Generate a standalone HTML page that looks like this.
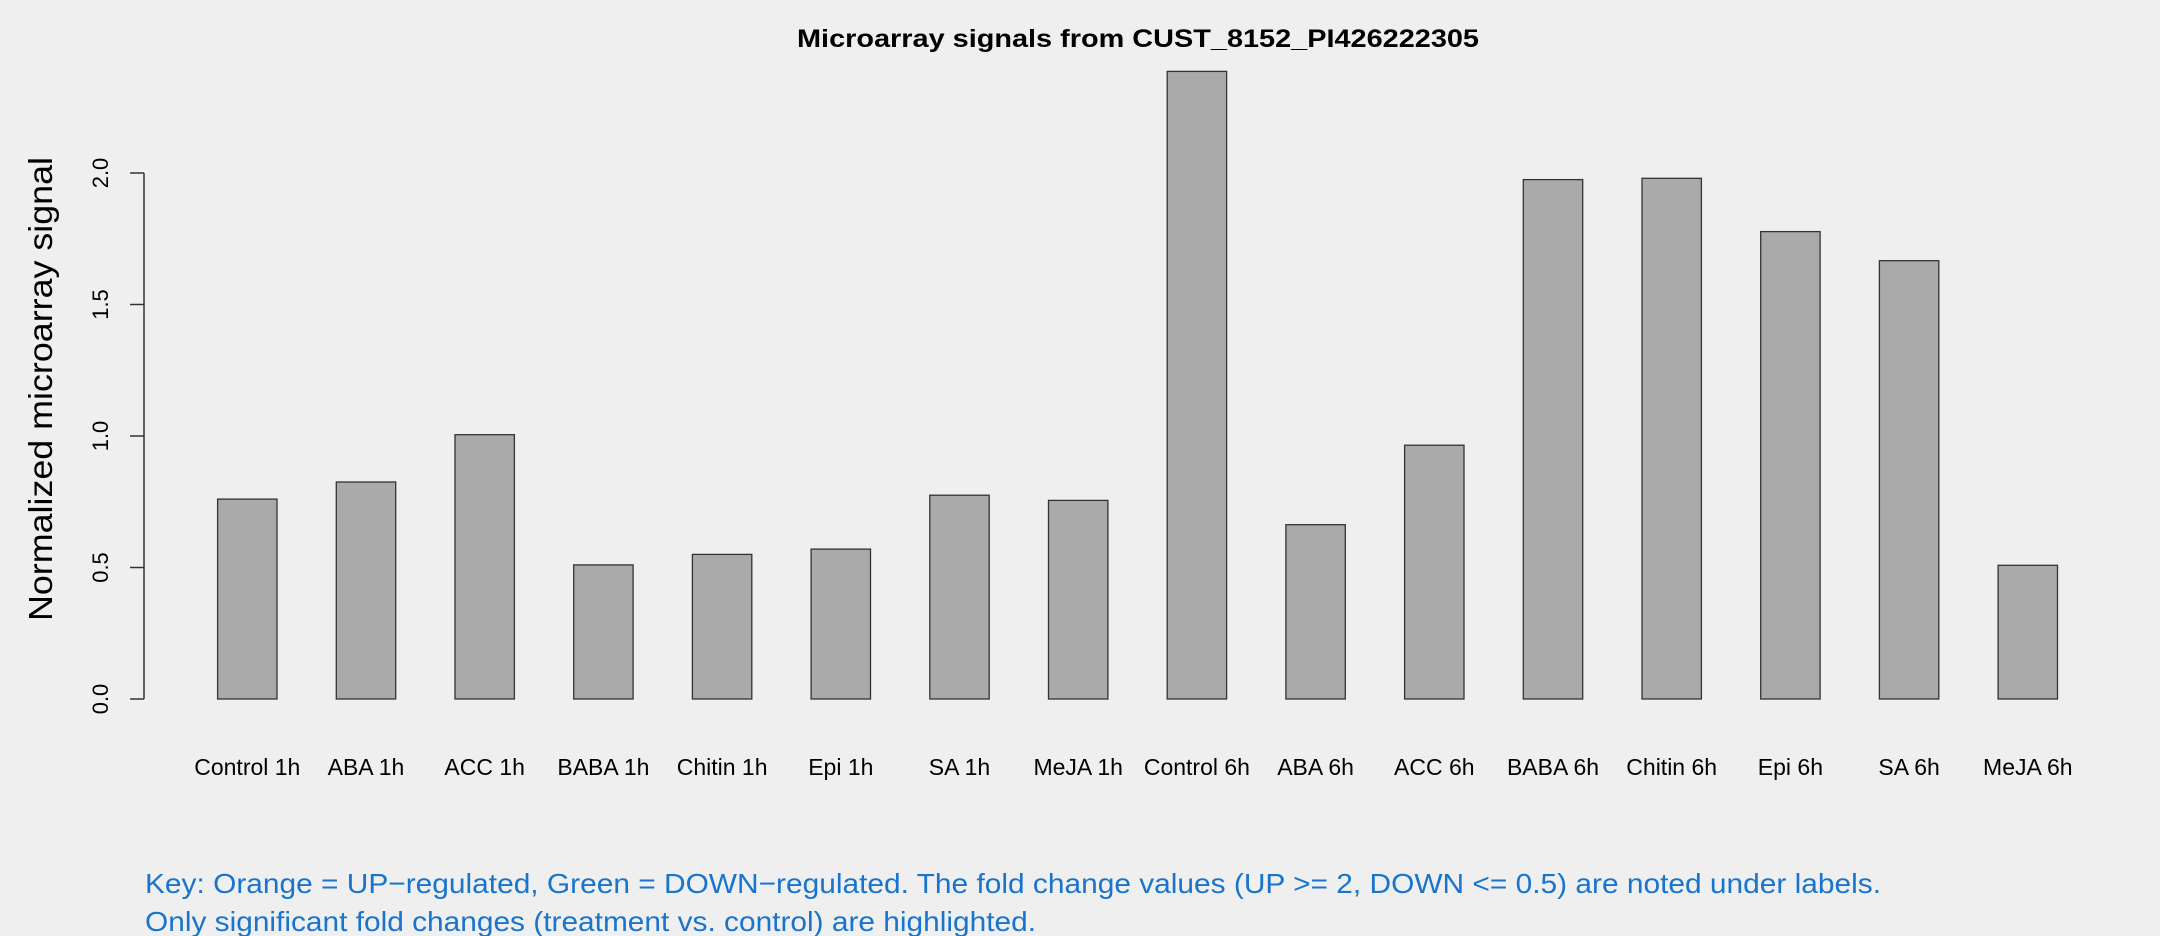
<!DOCTYPE html>
<html><head><meta charset="utf-8"><style>
html,body{margin:0;padding:0;background:#efefef;}
svg{display:block;font-family:"Liberation Sans",Arial,sans-serif;}
</style></head><body>
<svg width="2160" height="936" viewBox="0 0 2160 936" xmlns="http://www.w3.org/2000/svg">
<rect width="2160" height="936" fill="#efefef"/>
<text x="1138" y="47" font-size="25" font-weight="bold" text-anchor="middle" textLength="682" lengthAdjust="spacingAndGlyphs">Microarray signals from CUST_8152_PI426222305</text>
<g stroke="#333" stroke-width="1.5" fill="none">
<line x1="144" y1="173" x2="144" y2="699"/>
<line x1="130" y1="699" x2="144" y2="699"/>
<line x1="130" y1="567.5" x2="144" y2="567.5"/>
<line x1="130" y1="436" x2="144" y2="436"/>
<line x1="130" y1="304.5" x2="144" y2="304.5"/>
<line x1="130" y1="173" x2="144" y2="173"/>
</g>
<g font-size="22" text-anchor="middle">
<text transform="translate(108,699) rotate(-90)">0.0</text>
<text transform="translate(108,567.5) rotate(-90)">0.5</text>
<text transform="translate(108,436) rotate(-90)">1.0</text>
<text transform="translate(108,304.5) rotate(-90)">1.5</text>
<text transform="translate(108,173) rotate(-90)">2.0</text>
</g>
<text transform="translate(52,389) rotate(-90)" font-size="33" text-anchor="middle" textLength="464" lengthAdjust="spacingAndGlyphs">Normalized microarray signal</text>
<g fill="#aaaaaa" stroke="#333" stroke-width="1.3">
<rect x="217.6" y="499.1" width="59.4" height="199.9"/>
<rect x="336.3" y="482.0" width="59.4" height="217.0"/>
<rect x="455.0" y="434.7" width="59.4" height="264.3"/>
<rect x="573.7" y="564.9" width="59.4" height="134.1"/>
<rect x="692.4" y="554.4" width="59.4" height="144.6"/>
<rect x="811.1" y="549.1" width="59.4" height="149.9"/>
<rect x="929.8" y="495.2" width="59.4" height="203.8"/>
<rect x="1048.5" y="500.4" width="59.4" height="198.6"/>
<rect x="1167.2" y="71.4" width="59.4" height="627.6"/>
<rect x="1285.9" y="524.7" width="59.4" height="174.3"/>
<rect x="1404.6" y="445.2" width="59.4" height="253.8"/>
<rect x="1523.3" y="179.6" width="59.4" height="519.4"/>
<rect x="1642.0" y="178.3" width="59.4" height="520.7"/>
<rect x="1760.7" y="231.6" width="59.4" height="467.4"/>
<rect x="1879.4" y="260.7" width="59.4" height="438.3"/>
<rect x="1998.1" y="565.3" width="59.4" height="133.7"/>
</g>
<g font-size="23" text-anchor="middle">
<text x="247.3" y="775">Control 1h</text>
<text x="366" y="775">ABA 1h</text>
<text x="484.7" y="775">ACC 1h</text>
<text x="603.4" y="775">BABA 1h</text>
<text x="722.1" y="775">Chitin 1h</text>
<text x="840.8" y="775">Epi 1h</text>
<text x="959.5" y="775">SA 1h</text>
<text x="1078.2" y="775">MeJA 1h</text>
<text x="1196.9" y="775">Control 6h</text>
<text x="1315.6" y="775">ABA 6h</text>
<text x="1434.3" y="775">ACC 6h</text>
<text x="1553" y="775">BABA 6h</text>
<text x="1671.7" y="775">Chitin 6h</text>
<text x="1790.4" y="775">Epi 6h</text>
<text x="1909.1" y="775">SA 6h</text>
<text x="2027.8" y="775">MeJA 6h</text>
</g>
<g font-size="28" fill="#1874cd">
<text x="145" y="893" textLength="1736" lengthAdjust="spacingAndGlyphs">Key: Orange = UP−regulated, Green = DOWN−regulated. The fold change values (UP &gt;= 2, DOWN &lt;= 0.5) are noted under labels.</text>
<text x="145" y="931" textLength="891" lengthAdjust="spacingAndGlyphs">Only significant fold changes (treatment vs. control) are highlighted.</text>
</g>
</svg>
</body></html>
